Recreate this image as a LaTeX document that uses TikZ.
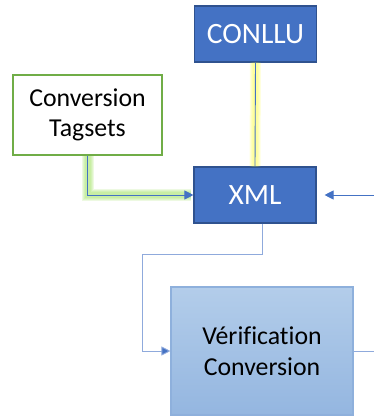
\documentclass[tikz,border=0pt]{standalone}
\usepackage{fontspec}
\setmainfont{Carlito}[Ligatures=NoCommon]
\usetikzlibrary{arrows.meta}
\definecolor{boxblue}{HTML}{4472C4}
\definecolor{boxedge}{HTML}{2F528F}
\definecolor{tagedge}{HTML}{70AD47}
\definecolor{linkblue}{HTML}{4472C4}
\definecolor{lightlink}{HTML}{8FAADC}
\definecolor{vertop}{HTML}{B3CDEA}
\definecolor{verbot}{HTML}{94B6E0}
\definecolor{veredge}{HTML}{8EB0DC}
\definecolor{glowyellow}{HTML}{FFFF4D}
\definecolor{glowgreen}{HTML}{9BE05A}
\tikzset{
  darkbox/.style={draw=boxedge, line width=1.1pt, fill=boxblue, text=white,
    minimum width=122pt, minimum height=56pt, inner sep=0pt,
    font=\fontsize{29.5}{34}\selectfont},
  tagbox/.style={draw=tagedge, line width=1.3pt, fill=white, text=black,
    minimum width=149pt, minimum height=80pt, inner sep=0pt, align=center,
    font=\fontsize{25.8}{30.6}\selectfont},
  verbox/.style={draw=veredge, line width=1.1pt, top color=vertop, bottom color=verbot,
    text=black, minimum width=182pt, minimum height=128pt, inner sep=0pt, align=center,
    font=\fontsize{25.8}{30.6}\selectfont},
  link/.style={draw=linkblue, line width=0.9pt},
  softlink/.style={draw=lightlink, line width=0.9pt},
  tip/.style={-{Triangle[length=9pt,width=9pt,fill=linkblue]}},
  glow/.style={line width=#1, opacity=0.18},
}
\begin{document}
\begin{tikzpicture}[x=1pt,y=-1pt]
  \useasboundingbox (0,0) rectangle (374,417);

  % boxes
  \node[darkbox] (conllu) at (255.5,34) {CONLLU};
  \node[tagbox]  (tags)   at (87.5,115) {Conversion\\Tagsets};
  \node[darkbox] (xml)    at (255,195) {XML};
  \node[verbox]  (ver)    at (262,351) {Vérification\\Conversion};

  % loose ends on the right border
  \coordinate (rin)  at (374,195);
  \coordinate (rout) at (374,351);
  \coordinate (bend) at (142,254);

  % soft yellow glow behind the CONLLU -> XML link
  \foreach \w in {11pt,9pt,7pt,5pt}
    \draw[glowyellow, glow=\w] (conllu.south) -- (xml.north);
  \draw[link] (conllu.south) -- (xml.north);

  % soft green glow behind the Tagsets -> XML link
  \foreach \w in {12pt,10pt,8pt,6pt}
    \draw[glowgreen, glow=\w] (tags.south) |- ([xshift=-2pt]xml.west);
  \draw[link, tip] (tags.south) |- (xml.west);

  % incoming from the right
  \draw[link, tip] (rin) -- ([xshift=8pt]xml.east);

  % XML -> Vérification
  \draw[softlink] ([xshift=7pt]xml.south) |- (bend);
  \draw[softlink, tip] (bend) |- (ver.west);

  % outgoing to the right
  \draw[softlink] (ver.east) -- (rout);
\end{tikzpicture}
\end{document}
